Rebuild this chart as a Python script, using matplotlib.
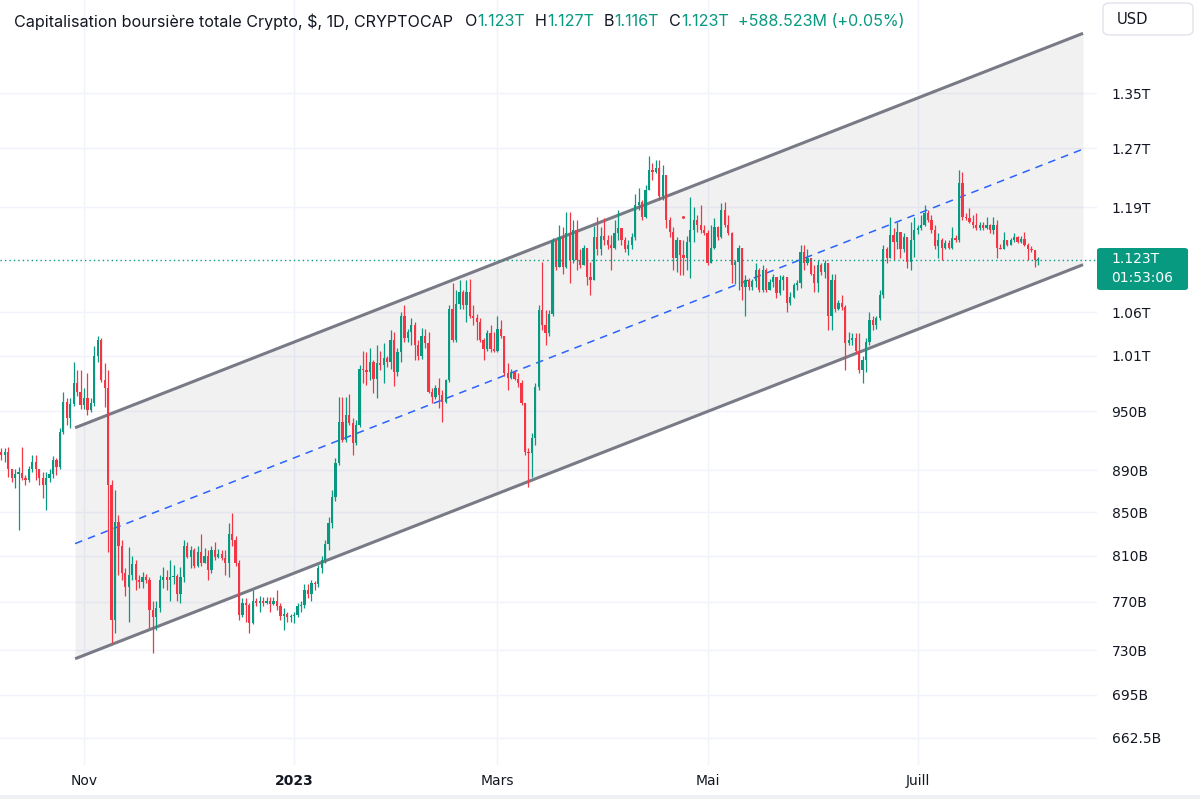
import matplotlib
matplotlib.use("Agg")
import matplotlib.pyplot as plt
import matplotlib.dates as mdates
from matplotlib.ticker import NullLocator, NullFormatter
from matplotlib.patches import FancyBboxPatch, Rectangle
import numpy as np
import pandas as pd

plt.rcParams['font.family'] = ['Inter', 'DejaVu Sans']

# daily candles of total crypto market cap, in billions of USD (Oct 8 2022 -> Aug 5 2023)
first_open = 908
closes = [
    # Oct
    905, 908, 891, 883, 887, 888, 883, 881, 891, 898, 891, 883, 876, 883, 887, 900, 893, 929, 960, 943, 958, 980, 971, 957,
    # Nov
    964, 951, 959, 1010, 1028, 983, 975, 876, 755, 841, 819, 795, 783, 793, 803, 789, 787, 791, 789, 763, 757, 765, 789, 791, 789, 791, 792, 777, 791, 819,
    # Dec
    809, 815, 801, 813, 804, 810, 797, 815, 809, 812, 808, 804, 830, 824, 804, 759, 769, 767, 752, 771, 769, 771, 769, 771, 768, 771, 766, 758, 760, 757, 758,
    # Jan
    759, 766, 767, 780, 777, 786, 785, 799, 806, 821, 840, 864, 897, 939, 920, 946, 938, 917, 936, 996, 994, 992, 1003, 985, 1002, 1000, 1008, 1003, 1028, 992, 1014,
    # Feb
    1056, 1030, 1037, 1045, 1022, 1010, 1033, 1025, 971, 965, 975, 967, 960, 983, 1064, 1028, 1070, 1084, 1068, 1084, 1056, 1053, 1048, 1028, 1018, 1036, 1018, 1016,
    # Mar
    1041, 1033, 991, 986, 992, 985, 980, 959, 908, 907, 923, 976, 1062, 1045, 1036, 1058, 1148, 1114, 1152, 1114, 1157, 1123, 1161, 1123, 1117, 1138, 1102, 1098, 1152, 1136, 1153,
    # Apr
    1148, 1141, 1138, 1157, 1163, 1148, 1136, 1142, 1152, 1193, 1197, 1177, 1213, 1240, 1237, 1243, 1205, 1233, 1173, 1158, 1125, 1148, 1129, 1125, 1145, 1161, 1173, 1167, 1161, 1157,
    # May
    1119, 1138, 1164, 1152, 1187, 1167, 1157, 1117, 1120, 1138, 1090, 1098, 1090, 1097, 1110, 1086, 1110, 1086, 1096, 1102, 1083, 1098, 1102, 1071, 1078, 1092, 1095, 1133, 1119, 1125, 1106,
    # Jun
    1095, 1117, 1108, 1119, 1055, 1098, 1064, 1071, 1066, 1025, 1028, 1030, 1016, 994, 1005, 1026, 1051, 1045, 1053, 1080, 1136, 1125, 1154, 1145, 1158, 1136, 1152, 1120, 1148, 1161,
    # Jul
    1163, 1167, 1183, 1173, 1161, 1140, 1148, 1138, 1144, 1138, 1150, 1148, 1223, 1177, 1176, 1171, 1167, 1163, 1167, 1163, 1167, 1161, 1167, 1138, 1137, 1148, 1142, 1148, 1152, 1145, 1149,
    # Aug
    1142, 1136, 1135, 1122.4, 1123,
]
highs = [
    912, 912, 913, 891, 891, 893, 913, 886, 894, 905, 905, 891, 889, 889, 891, 904, 902, 933, 971, 964, 964, 1003, 994, 994,
    975, 991, 964, 1021, 1032, 1030, 1002, 994, 881, 871, 847, 824, 799, 818, 810, 806, 793, 796, 794, 791, 771, 771, 793, 800, 797, 806, 802, 794, 800, 824,
    822, 819, 817, 819, 830, 817, 815, 819, 822, 816, 815, 815, 840, 849, 828, 806, 773, 773, 769, 780, 773, 775, 774, 774, 774, 774, 780, 769, 765, 761, 760,
    761, 769, 771, 785, 785, 789, 788, 802, 810, 824, 845, 871, 902, 965, 965, 965, 968, 943, 941, 1000, 1016, 1014, 1019, 1005, 1022, 1016, 1024, 1010, 1039, 1037, 1019,
    1060, 1068, 1041, 1053, 1048, 1028, 1042, 1041, 1037, 975, 978, 986, 973, 985, 1068, 1095, 1086, 1098, 1086, 1098, 1100, 1068, 1058, 1053, 1030, 1039, 1045, 1037,
    1056, 1051, 1033, 1002, 996, 994, 991, 983, 959, 912, 928, 980, 1068, 1120, 1062, 1062, 1150, 1148, 1167, 1164, 1184, 1184, 1173, 1173, 1136, 1142, 1138, 1120, 1166, 1177, 1164,
    1176, 1154, 1154, 1173, 1187, 1163, 1152, 1148, 1157, 1207, 1216, 1200, 1220, 1260, 1250, 1254, 1254, 1247, 1233, 1177, 1164, 1152, 1148, 1148, 1153, 1204, 1191, 1180, 1193, 1167,
    1161, 1167, 1176, 1166, 1196, 1197, 1180, 1158, 1123, 1142, 1133, 1104, 1101, 1100, 1119, 1113, 1117, 1113, 1100, 1106, 1102, 1104, 1104, 1102, 1084, 1095, 1098, 1142, 1142, 1136, 1125,
    1117, 1123, 1119, 1123, 1119, 1106, 1106, 1074, 1080, 1068, 1037, 1036, 1036, 1036, 1010, 1030, 1060, 1056, 1056, 1086, 1142, 1139, 1177, 1163, 1171, 1154, 1157, 1152, 1171, 1177,
    1167, 1180, 1193, 1187, 1180, 1167, 1157, 1150, 1148, 1148, 1164, 1154, 1240, 1237, 1183, 1189, 1180, 1183, 1171, 1171, 1177, 1168, 1177, 1173, 1143, 1158, 1148, 1150, 1157, 1153, 1153,
    1158, 1144, 1140, 1133, 1127,
]
lows = [
    900, 898, 884, 879, 873, 833, 881, 876, 879, 889, 881, 876, 863, 852, 879, 883, 886, 891, 927, 936, 933, 956, 966, 953,
    953, 946, 949, 956, 1003, 981, 955, 813, 736, 744, 793, 789, 775, 753, 789, 780, 782, 782, 786, 748, 728, 746, 761, 782, 780, 771, 785, 771, 769, 787,
    808, 799, 799, 800, 801, 804, 789, 795, 806, 808, 806, 793, 791, 819, 801, 755, 757, 753, 744, 751, 766, 761, 766, 768, 761, 767, 763, 755, 746, 753, 753,
    752, 757, 761, 765, 773, 771, 780, 783, 795, 804, 815, 835, 861, 895, 918, 918, 936, 905, 915, 934, 980, 978, 983, 970, 964, 994, 980, 998, 996, 977, 988,
    1003, 1026, 1026, 1022, 1005, 1005, 1007, 1019, 970, 959, 963, 954, 939, 959, 981, 1026, 1026, 1064, 1064, 1048, 1053, 1045, 1028, 1026, 1005, 1016, 1014, 1014,
    1014, 1030, 988, 973, 985, 983, 976, 957, 905, 874, 884, 915, 973, 1039, 1022, 1033, 1056, 1110, 1116, 1106, 1113, 1095, 1119, 1110, 1113, 1117, 1092, 1080, 1098, 1129, 1129,
    1142, 1136, 1110, 1136, 1148, 1142, 1133, 1129, 1136, 1148, 1187, 1173, 1176, 1213, 1227, 1236, 1200, 1200, 1163, 1152, 1110, 1108, 1104, 1104, 1110, 1101, 1145, 1158, 1157, 1154,
    1116, 1123, 1136, 1148, 1150, 1164, 1154, 1095, 1094, 1086, 1074, 1055, 1086, 1086, 1090, 1084, 1084, 1084, 1089, 1090, 1077, 1080, 1086, 1060, 1068, 1077, 1086, 1089, 1110, 1116, 1104,
    1084, 1084, 1104, 1101, 1039, 1039, 1060, 1062, 1062, 994, 1022, 1022, 1013, 991, 980, 992, 1022, 1039, 1041, 1051, 1077, 1119, 1125, 1123, 1136, 1125, 1133, 1113, 1110, 1127,
    1156, 1161, 1166, 1171, 1157, 1136, 1125, 1123, 1136, 1136, 1136, 1145, 1145, 1173, 1173, 1170, 1163, 1161, 1161, 1161, 1162, 1157, 1156, 1125, 1136, 1136, 1140, 1141, 1145, 1144, 1144,
    1140, 1123, 1133, 1114, 1116,
]

# parallel channel drawn on the chart (anchor dates, values in B)
channel_dates = ['2022-10-29 10:00', '2023-08-18 00:00']
channel_upper = [933, 1442]
channel_lower = [723, 1117]
channel_mid = [821, 1269]
marker_date, marker_value = '2023-04-23 22:00', 1178

last_price = 1123
price_ticks = [662.5, 695, 730, 770, 810, 850, 890, 950, 1010, 1060, 1190, 1270, 1350]
price_labels = ['662.5B', '695B', '730B', '770B', '810B', '850B', '890B', '950B',
                '1.01T', '1.06T', '1.19T', '1.27T', '1.35T']
month_ticks = ['2022-11-01', '2023-01-01', '2023-03-01', '2023-05-01', '2023-07-01']
month_labels = ['Nov', '2023', 'Mars', 'Mai', 'Juill']

GREEN = '#089981'
RED = '#f23645'
DARK = '#131722'
W, H = 1200, 799
AXIS_FONT = 'DejaVu Sans'

dates = pd.date_range('2022-10-08', periods=len(closes), freq='D')
x = mdates.date2num(dates)
c = np.array(closes, dtype=float)
o = np.concatenate([[first_open], c[:-1]])
hi = np.maximum(np.array(highs, dtype=float), np.maximum(o, c))
lo = np.minimum(np.array(lows, dtype=float), np.minimum(o, c))
up = c >= o
colors = np.where(up, GREEN, RED)

fig = plt.figure(figsize=(W / 100, H / 100), dpi=100)
fig.patch.set_facecolor('white')
ax = fig.add_axes([0, 34 / H, 1097 / W, 765 / H])
ax.set_facecolor('white')

# channel
cx = mdates.date2num(pd.to_datetime(channel_dates))
ax.fill_between(cx, channel_lower, channel_upper, color='#787b86', alpha=0.1, lw=0, zorder=1)
ax.plot(cx, channel_upper, color='#787b86', lw=2.2, solid_capstyle='butt', zorder=2)
ax.plot(cx, channel_lower, color='#787b86', lw=2.2, solid_capstyle='butt', zorder=2)
mid, = ax.plot(cx, channel_mid, color='#2962ff', lw=1.1, zorder=2)
mid.set_dashes((5, 4))

# candles
body = np.abs(c - o)
body = np.maximum(body, c * 0.0012)
ax.vlines(x, lo, hi, colors=colors, lw=0.9, zorder=3)
ax.bar(x, body, bottom=np.minimum(o, c), width=0.66, color=colors, lw=0, zorder=4)

ax.plot(mdates.date2num(pd.Timestamp(marker_date)), marker_value, 'o', ms=2.2,
        color=RED, mec='none', zorder=5)

# last price line
pl, = ax.plot([0, 1], [last_price, last_price], transform=ax.get_yaxis_transform(),
              color=GREEN, lw=1.0, zorder=5)
pl.set_dashes((1, 2.2))

nov1 = mdates.date2num(pd.Timestamp('2022-11-01'))
px_per_day = 3.445
ax.set_xlim(nov1 - 84 / px_per_day, nov1 + (1097 - 84) / px_per_day)
ax.set_yscale('log')
ax.set_ylim(643, 1496)

ax.yaxis.tick_right()
ax.set_yticks(price_ticks)
ax.set_yticklabels(price_labels, fontfamily=AXIS_FONT)
ax.yaxis.set_minor_locator(NullLocator())
ax.yaxis.set_minor_formatter(NullFormatter())
ax.tick_params(axis='y', length=0, pad=10.5, labelsize=10, labelcolor=DARK)

ax.set_xticks(mdates.date2num(pd.to_datetime(month_ticks)))
ax.set_xticklabels(month_labels, fontfamily=AXIS_FONT)
ax.tick_params(axis='x', length=0, pad=6.5, labelsize=10, labelcolor=DARK)
ax.get_xticklabels()[1].set_fontweight('bold')

ax.grid(True, color='#f0f3fa', lw=1.0, zorder=0)
ax.set_axisbelow(True)
for s in ax.spines.values():
    s.set_visible(False)

# header line
renderer = fig.canvas.get_renderer()
hy = 1 - 26.5 / H
pieces = [
    ('Capitalisation boursière totale Crypto, $, 1D, CRYPTOCAP', DARK, 12),
    ('O', DARK, 0), ('1.123T', GREEN, 10),
    ('H', DARK, 0), ('1.127T', GREEN, 10),
    ('B', DARK, 0), ('1.116T', GREEN, 10),
    ('C', DARK, 0), ('1.123T', GREEN, 10),
    ('+588.523M (+0.05%)', GREEN, 0),
]
xp = 14
for txt, col, gap in pieces:
    t = fig.text(xp / W, hy, txt, color=col, fontsize=11.6, va='baseline', ha='left')
    bb = t.get_window_extent(renderer)
    xp = bb.x1 + gap

# USD box
fig.patches.append(FancyBboxPatch((1103 / W, 1 - 35 / H), 90 / W, 32 / H,
                                  boxstyle='round,pad=0,rounding_size=0.006',
                                  transform=fig.transFigure, fc='white', ec='#e0e3eb', lw=1))
fig.text(1117 / W, 1 - 19 / H, 'USD', color=DARK, fontsize=10.6, va='center', ha='left',
         fontfamily=AXIS_FONT)

# last price label
fig.patches.append(FancyBboxPatch((1097 / W, 1 - 290 / H), 91 / W, 42 / H,
                                  boxstyle='round,pad=0,rounding_size=0.003',
                                  transform=fig.transFigure, fc=GREEN, ec='none'))
fig.text(1111 / W, 1 - 259 / H, '1.123T', color='white', fontsize=10, va='center', ha='left',
         fontfamily=AXIS_FONT)
fig.text(1111 / W, 1 - 278 / H, '01:53:06', color='white', fontsize=10, va='center', ha='left',
         fontfamily=AXIS_FONT)

# bottom border strip
fig.patches.append(Rectangle((0, 0), 1, 4 / H, transform=fig.transFigure,
                             fc='#eef0f3', ec='none'))

fig.savefig('out.png', dpi=100)
